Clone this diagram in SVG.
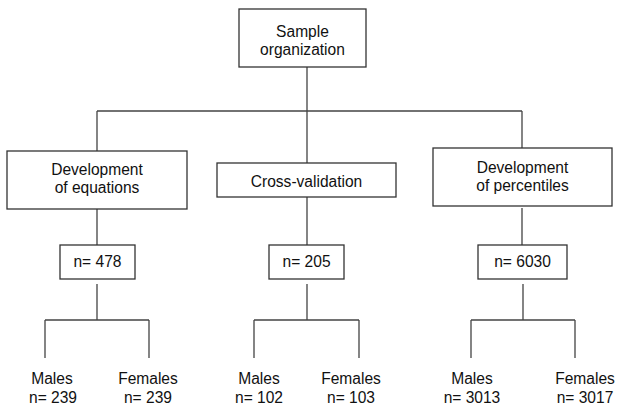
<svg xmlns="http://www.w3.org/2000/svg" width="617" height="410" viewBox="0 0 617 410">
<style>
.box{fill:#fff;stroke:#333;stroke-width:1.3}
.ln{fill:none;stroke:#444;stroke-width:1.3}
text{font-family:"Liberation Sans",Arial,sans-serif;font-size:17.3px;fill:#111;text-anchor:middle}
</style>
<rect width="617" height="410" fill="#fff"/>
<g id="connectors">
<path class="ln" d="M307 67V111M97 111H522M97 111V151M307 111V163M522 111V148"/>
<path class="ln" d="M97 209V245M307 197V245M522 208V245"/>
<path class="ln" d="M97 284V320M45 320H149M45 320V358M149 320V358"/>
<path class="ln" d="M307 284V320M254 320H359M254 320V358M359 320V358"/>
<path class="ln" d="M523 284V320M471 320H575M471 320V358M575 320V358"/>
</g>
<g id="root"><rect class="box" x="239" y="9" width="127" height="58"/><text transform="scale(0.9,1)" x="336.1" y="37">Sample</text><text transform="scale(0.9,1)" x="336.1" y="55">organization</text></g>
<g id="dev-eq"><rect class="box" x="7" y="151" width="180" height="58"/><text transform="scale(0.9,1)" x="107.8" y="175">Development</text><text transform="scale(0.9,1)" x="107.8" y="193">of equations</text></g>
<g id="cross"><rect class="box" x="217" y="163" width="179" height="34"/><text transform="scale(0.9,1)" x="340.6" y="187">Cross-validation</text></g>
<g id="dev-pc"><rect class="box" x="433" y="148" width="179" height="58"/><text transform="scale(0.9,1)" x="580.6" y="173">Development</text><text transform="scale(0.9,1)" x="580.6" y="191">of percentiles</text></g>
<g id="n478"><rect class="box" x="60" y="245" width="75" height="34"/><text transform="scale(0.9,1)" x="108.3" y="267">n= 478</text></g>
<g id="n205"><rect class="box" x="269" y="245" width="75" height="34"/><text transform="scale(0.9,1)" x="340.6" y="267">n= 205</text></g>
<g id="n6030"><rect class="box" x="478" y="245" width="89" height="34"/><text transform="scale(0.9,1)" x="580.6" y="267">n= 6030</text></g>
<g id="m1"><text transform="scale(0.9,1)" x="57.8" y="384">Males</text><text transform="scale(0.9,1)" x="58.9" y="403">n= 239</text></g>
<g id="f1"><text transform="scale(0.9,1)" x="164.4" y="384">Females</text><text transform="scale(0.9,1)" x="164.4" y="403">n= 239</text></g>
<g id="m2"><text transform="scale(0.9,1)" x="287.8" y="384">Males</text><text transform="scale(0.9,1)" x="287.8" y="403">n= 102</text></g>
<g id="f2"><text transform="scale(0.9,1)" x="390" y="384">Females</text><text transform="scale(0.9,1)" x="390" y="403">n= 103</text></g>
<g id="m3"><text transform="scale(0.9,1)" x="524.4" y="384">Males</text><text transform="scale(0.9,1)" x="524.4" y="403">n= 3013</text></g>
<g id="f3"><text transform="scale(0.9,1)" x="650" y="384">Females</text><text transform="scale(0.9,1)" x="650" y="403">n= 3017</text></g>
</svg>
